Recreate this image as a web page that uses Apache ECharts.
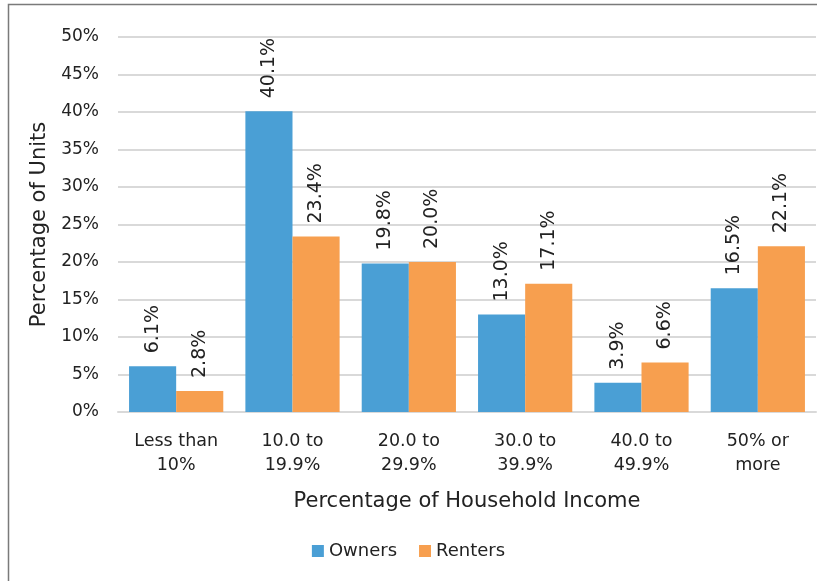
<!DOCTYPE html>
<html>
<head>
<meta charset="utf-8">
<script src="https://cdn.jsdelivr.net/npm/echarts@6/dist/echarts.min.js"></script>
<style>html,body{margin:0;padding:0;background:#fff}#c{width:817px;height:581px}</style>
</head>
<body>
<div id="c"></div>
<script>
var categories = ['Less than\n10%', '10.0 to\n19.9%', '20.0 to\n29.9%', '30.0 to\n39.9%', '40.0 to\n49.9%', '50% or\nmore'];
var owners = [6.1, 40.1, 19.8, 13.0, 3.9, 16.5];
var renters = [2.8, 23.4, 20.0, 17.1, 6.6, 22.1];
var seriesNames = ['Owners', 'Renters'];
var yTicks = { min: 0, max: 50, interval: 5 };

var FONT = 'DejaVu Sans';
var chart = echarts.init(document.getElementById('c'), null, { renderer: 'canvas' });
function lbl() {
  return {
    show: true, position: 'top', rotate: 90, distance: 13,
    align: 'left', verticalAlign: 'middle',
    fontFamily: FONT, fontSize: 19, color: '#222',
    formatter: function (p) { return p.value.toFixed(1) + '%'; }
  };
}
chart.setOption({
  animation: false,
  textStyle: { fontFamily: FONT },
  graphic: [{
    type: 'rect', silent: true,
    shape: { x: 8.5, y: 4.5, width: 830, height: 600 },
    style: { fill: 'none', stroke: '#7a7a7a', lineWidth: 1.5 }
  }],
  grid: { left: 118, right: 1, top: 37, bottom: 169, containLabel: false },
  legend: {
    data: seriesNames, top: 537, left: 'center', icon: 'rect',
    itemWidth: 12, itemHeight: 12, itemGap: 22,
    textStyle: { fontFamily: FONT, fontSize: 18, color: '#222' }
  },
  xAxis: {
    type: 'category', data: categories,
    name: 'Percentage of Household Income', nameLocation: 'middle', nameGap: 79,
    nameTextStyle: { fontFamily: FONT, fontSize: 21, color: '#222' },
    axisLine: { show: true, lineStyle: { color: '#d9d9d9', width: 2 } },
    axisTick: { show: false },
    axisLabel: { fontFamily: FONT, fontSize: 17.5, color: '#222', margin: 17, lineHeight: 24, interval: 0 }
  },
  yAxis: {
    type: 'value', min: yTicks.min, max: yTicks.max, interval: yTicks.interval,
    name: 'Percentage of Units', nameLocation: 'middle', nameGap: 67,
    nameTextStyle: { fontFamily: FONT, fontSize: 21, color: '#222' },
    axisLine: { show: false }, axisTick: { show: false },
    axisLabel: { fontFamily: FONT, fontSize: 17, color: '#222', margin: 19, formatter: '{value}%' },
    splitLine: { lineStyle: { color: '#d9d9d9', width: 2 } }
  },
  series: [
    { name: seriesNames[0], type: 'bar', data: owners, barGap: '0%', barCategoryGap: '19%',
      itemStyle: { color: '#4A9FD5' }, label: lbl() },
    { name: seriesNames[1], type: 'bar', data: renters, barGap: '0%', barCategoryGap: '19%',
      itemStyle: { color: '#F79F4F' }, label: lbl() }
  ]
});
</script>
</body>
</html>
